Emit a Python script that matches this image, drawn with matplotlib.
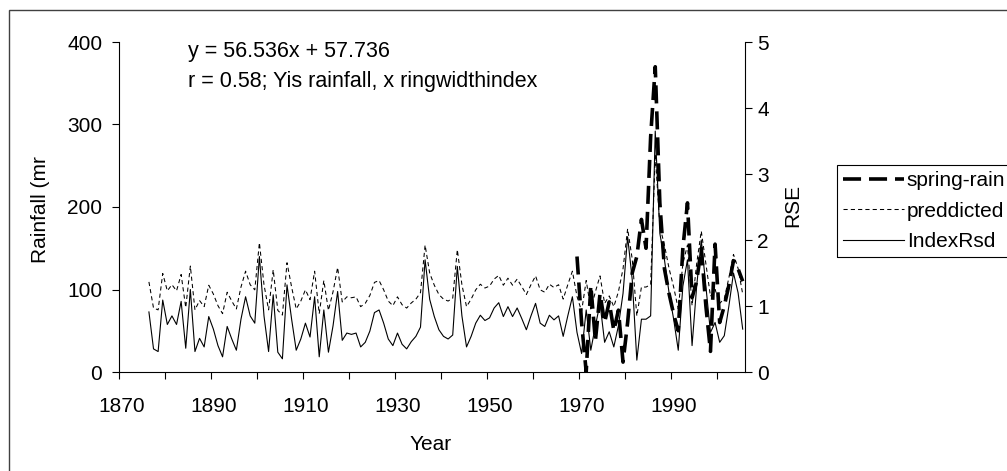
import matplotlib
matplotlib.use('Agg')
import matplotlib.pyplot as plt
from matplotlib.patches import Rectangle

plt.rcParams['font.family'] = ['Liberation Sans', 'DejaVu Sans']

# ring width index (right axis), one value per year 1876-2005
years = list(range(1876, 2006))
index_rsd = [
    0.91, 0.35, 0.31, 1.09,                                          # 1876-1879
    0.72, 0.85, 0.72, 1.07, 0.36, 1.25, 0.31, 0.51, 0.38, 0.84,      # 1880s
    0.65, 0.40, 0.23, 0.69, 0.50, 0.33, 0.80, 1.14, 0.85, 0.74,      # 1890s
    1.75, 0.85, 0.31, 1.17, 0.30, 0.20, 1.32, 0.80, 0.33, 0.50,      # 1900s
    0.74, 0.53, 1.14, 0.23, 0.94, 0.30, 0.70, 1.22, 0.48, 0.59,      # 1910s
    0.57, 0.59, 0.38, 0.45, 0.62, 0.90, 0.94, 0.74, 0.50, 0.40,      # 1920s
    0.59, 0.42, 0.35, 0.46, 0.54, 0.68, 1.70, 1.10, 0.84, 0.64,      # 1930s
    0.54, 0.50, 0.56, 1.60, 0.85, 0.38, 0.54, 0.74, 0.86, 0.78,      # 1940s
    0.82, 0.97, 1.05, 0.84, 0.99, 0.84, 0.97, 0.81, 0.64, 0.85,      # 1950s
    1.04, 0.74, 0.69, 0.86, 0.79, 0.85, 0.54, 0.85, 1.14, 0.60,      # 1960s
    0.28, 0.94, 0.33, 0.70, 1.04, 0.45, 0.61, 0.38, 0.70, 1.19,      # 1970s
    2.05, 1.40, 0.18, 0.80, 0.80, 0.85, 3.65, 2.10, 1.70, 1.20,      # 1980s
    0.80, 0.33, 1.30, 1.70, 0.40, 1.30, 2.00, 1.30, 0.60, 0.75,      # 1990s
    0.45, 0.55, 1.00, 1.50, 1.20, 0.65,                              # 2000-2005
]

# predicted rainfall (mm), left axis, 1876-2005
predicted = [
    109.2, 77.5, 75.3, 119.4,
    98.4, 105.8, 98.4, 118.2, 78.1, 128.4, 75.3, 86.6, 79.2, 105.2,
    94.5, 80.4, 70.7, 96.7, 86.0, 76.4, 103.0, 122.2, 105.8, 99.6,
    156.7, 105.8, 75.3, 123.9, 74.7, 69.0, 132.4, 103.0, 76.4, 86.0,
    99.6, 87.7, 122.2, 70.7, 110.9, 74.7, 97.3, 126.7, 84.9, 91.1,
    90.0, 91.1, 79.2, 83.2, 92.8, 108.6, 110.9, 99.6, 86.0, 80.4,
    91.1, 81.5, 77.5, 83.7, 88.3, 96.2, 153.8, 119.9, 105.2, 93.9,
    88.3, 86.0, 89.4, 148.2, 105.8, 79.2, 88.3, 99.6, 106.4, 101.8,
    104.1, 112.6, 117.1, 105.2, 113.7, 105.2, 112.6, 103.5, 93.9, 105.8,
    116.5, 99.6, 96.7, 106.4, 102.4, 105.8, 88.3, 105.8, 122.2, 91.7,
    73.6, 110.9, 76.4, 97.3, 116.5, 83.2, 92.2, 79.2, 97.3, 125.0,
    173.6, 136.9, 67.9, 103.0, 103.0, 105.8, 264.1, 176.5, 153.8, 125.6,
    103.0, 76.4, 131.2, 153.8, 80.4, 131.2, 170.8, 131.2, 91.7, 100.1,
    83.2, 88.8, 114.3, 142.5, 125.6, 94.5,
]

# observed spring rainfall (mm), 1969-2005
rain_years = list(range(1969, 2006))
spring_rain = [
    140, 60, 0, 105, 38, 95, 60, 85, 50, 75, 12,      # 1969-1979
    60, 120, 140, 185, 150, 285, 370, 205, 125, 95,   # 1980s
    70, 50, 150, 205, 90, 110, 150, 80, 25, 155,      # 1990s
    60, 80, 105, 135, 125, 110,                       # 2000-2005
]

label_years = [1870, 1890, 1910, 1930, 1950, 1970, 1990]
left_ticks = [0, 100, 200, 300, 400]
right_ticks = [0, 1, 2, 3, 4, 5]

W, H = 1007, 471
FS = 15
fig = plt.figure(figsize=(W / 100, H / 100), dpi=100)
ax = fig.add_axes([119 / W, 1 - 372 / H, (745 - 119) / W, 330 / H])
ax2 = ax.twinx()
ax.set_zorder(ax2.get_zorder() + 1)
ax.patch.set_visible(False)

ax2.plot(years, index_rsd, color='black', lw=0.8, label='IndexRsd')
ax.plot(years, predicted, color='black', lw=0.75, dashes=(4, 3), label='preddicted')
ax.plot(rain_years, spring_rain, color='black', lw=2.6, dashes=(5, 2.2), label='spring-rain')

ax.set_xlim(1869.5, 2005.5)
ax.set_ylim(0, 400)
ax2.set_ylim(0, 5)

# category-style axis: ticks between years every 10, labels every 20
ax.set_xticks([1869.5 + 10 * k for k in range(14)])
ax.set_xticklabels([])
ax.set_xticks(label_years, minor=True)
ax.set_xticklabels([str(y) for y in label_years], minor=True)
ax.tick_params(axis='x', which='major', direction='out', length=5, width=0.8)
ax.tick_params(axis='x', which='minor', length=0, pad=18, labelsize=FS)

ax.set_yticks(left_ticks)
ax.tick_params(axis='y', direction='out', length=5, width=0.8, pad=7, labelsize=FS)
ax2.set_yticks(right_ticks)
ax2.tick_params(axis='y', direction='out', length=5, width=0.8, pad=4, labelsize=FS)

for a in (ax, ax2):
    a.spines['top'].set_visible(False)
    for s in a.spines.values():
        s.set_linewidth(0.8)
ax.spines['right'].set_visible(False)
ax2.spines['left'].set_visible(False)
ax2.spines['bottom'].set_visible(False)

fig.text(40 / W, 1 - 210 / H, 'Rainfall (mr', rotation=90, ha='center', va='center', fontsize=FS)
fig.text(793 / W, 1 - 205 / H, 'RSE', rotation=90, ha='center', va='center', fontsize=FS)
fig.text(431 / W, 1 - 445 / H, 'Year', ha='center', va='center', fontsize=FS)

fig.text(188 / W, 1 - 52 / H, 'y = 56.536x + 57.736', ha='left', va='center', fontsize=15.5)
fig.text(188 / W, 1 - 82 / H, 'r = 0.58; Yis rainfall, x ringwidthindex', ha='left', va='center', fontsize=15.5)

h1, l1 = ax.get_legend_handles_labels()
h2, l2 = ax2.get_legend_handles_labels()
handles = [h1[1], h1[0], h2[0]]
labels = [l1[1], l1[0], l2[0]]
leg = fig.legend(handles, labels, loc='upper left', bbox_to_anchor=(837 / W, 1 - 165 / H),
                 fontsize=FS, frameon=False, borderpad=0.3, handlelength=2.9,
                 handletextpad=0.15, labelspacing=0.55, borderaxespad=0)

# legend box runs off the right edge of the chart
fig.patches.append(Rectangle((837 / W, 1 - 257 / H), 1.0, 92 / H,
                             transform=fig.transFigure, fill=False, ec='black', lw=0.8))

# chart area border
fig.patches.append(Rectangle((8.5 / W, -0.1), 1.2, (H - 9.5) / H + 0.1,
                             transform=fig.transFigure, fill=False, ec='#404040', lw=1))

fig.savefig('out.png', dpi=100)
